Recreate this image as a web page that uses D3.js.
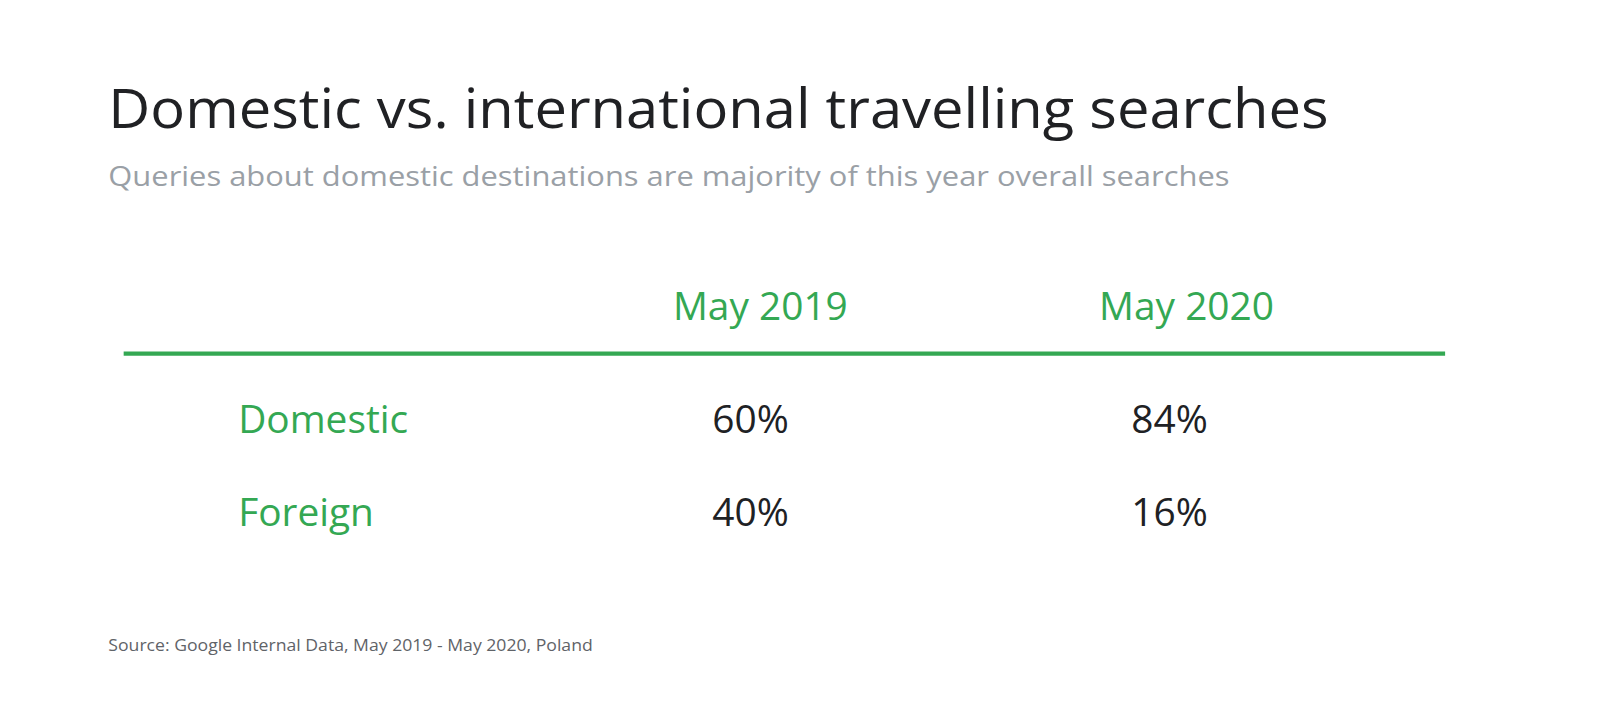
<!DOCTYPE html>
<html><head><meta charset="utf-8">
<script src="https://cdn.jsdelivr.net/npm/d3@7"></script>
<style>body{margin:0;background:#fff}</style></head>
<body><svg id="c" width="1600" height="718"></svg>
<script>
const title = "Domestic vs. international travelling searches";
const subtitle = "Queries about domestic destinations are majority of this year overall searches";
const columns = ["May 2019", "May 2020"];
const rows = ["Domestic", "Foreign"];
const values = [["60%", "84%"], ["40%", "16%"]];
const source = "Source: Google Internal Data, May  2019 - May 2020, Poland";

const svg = d3.select("#c");
svg.append("rect").attr("width",1600).attr("height",718).attr("fill","#fff");
const g = svg.append("g").attr("transform","scale(1.022)");
const font = "'Open Sans', Roboto, sans-serif";
const green = "#34a853";
function fit(sel, w){ sel.attr("textLength", w).attr("lengthAdjust","spacingAndGlyphs"); }
g.append("text").attr("x",106).attr("y",125).attr("font-family",font).attr("font-size",54)
  .attr("fill","#202124").text(title).call(fit,1194);
g.append("text").attr("x",106).attr("y",182).attr("font-family",font).attr("font-size",27)
  .attr("fill","#9aa0a6").text(subtitle).call(fit,1097);

const xHead = d3.scalePoint().domain(columns).range([744, 1161]);
const xVal = d3.scalePoint().domain(columns).range([697, 1107]);
const y = d3.scalePoint().domain(rows).range([424, 515]);

g.selectAll(".h").data(columns).join("text").attr("x",d=>xHead(d)).attr("y",313)
  .attr("text-anchor","middle").attr("font-family",font).attr("font-size",38).attr("fill",green).text(d=>d);
g.append("line").attr("x1",121).attr("x2",1414).attr("y1",346).attr("y2",346)
  .attr("stroke",green).attr("stroke-width",4);
g.selectAll(".r").data(rows).join("text").attr("x",233).attr("y",d=>y(d))
  .attr("font-family",font).attr("font-size",38).attr("fill",green).text(d=>d);
rows.forEach((r,i)=>{
  g.selectAll(".v"+i).data(columns).join("text").attr("x",d=>xVal(d)).attr("y",y(r))
    .attr("font-family",font).attr("font-size",38).attr("fill","#202124").text((d,j)=>values[i][j]);
});
g.append("text").attr("x",106).attr("y",637).attr("font-family",font).attr("font-size",15.5)
  .attr("fill","#5f6368").text(source).call(fit,474);
</script></body></html>
